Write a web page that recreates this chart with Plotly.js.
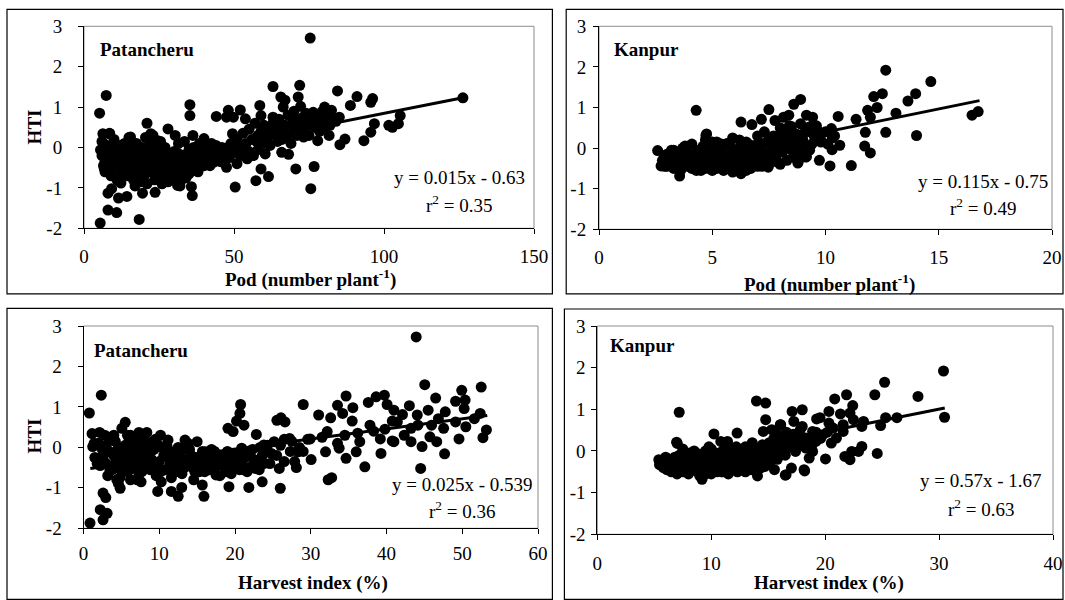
<!DOCTYPE html>
<html><head><meta charset="utf-8">
<script src="https://cdn.plot.ly/plotly-3.0.1.min.js"></script>
<style>html,body{margin:0;padding:0;background:#fff}#chart{width:1065px;height:600px}</style>
</head><body><div id="chart"></div>
<script>
// ---------- data ----------
const patPod = [[5.4,-1.87],[5.2,0.85],[7.4,1.29],[5.5,-0.06],[8.0,-1.13],[9.2,-1.02],[8.0,-1.55],[10.9,-1.61],[11.5,-1.25],[12.3,-0.88],[14.3,-1.21],[18.4,-1.78],[19.5,-1.13],[23.7,-1.11],[21,0.6],[15.5,0.26],[6.3,0.34],[8.6,0.34],[22.3,0.34],[24.6,0.17],[28,0.46],[30.4,0.3],[35.3,1.06],[35.3,0.79],[36.3,0.3],[35.8,-0.97],[36.1,-1.19],[31.2,-0.94],[40,0.22],[44.1,0.77],[43.3,-0.36],[48.1,0.92],[47.5,0.75],[49.8,0.75],[52.1,0.93],[50.4,-0.98],[49.5,0.34],[53.8,0.71],[47.5,-0.49],[51,-0.4],[54.4,-0.28],[57.3,-0.82],[59,-0.53],[61.5,-0.72],[58.6,1.04],[59,0.79],[60.4,-0.16],[63,1.51],[63,0.75],[65.6,1.25],[67,1.17],[66.4,1.0],[65.9,-0.12],[68.2,-0.17],[70.6,-0.53],[71.9,1.54],[71.4,1.25],[72.2,1.02],[69.9,0.75],[71.6,0.5],[73.2,0.26],[75.4,2.71],[75.6,-1.02],[76.7,-0.47],[76.4,0.87],[77.9,0.17],[80.2,1.0],[82.5,0.92],[81.7,0.3],[84.5,1.4],[85.1,0.75],[85.3,0.07],[87,0.21],[88.8,1.04],[91,1.26],[93.3,0.17],[95.6,0.38],[95.6,1.12],[96.2,1.21],[96.8,0.59],[101.6,0.55],[102.8,0.5],[104.8,0.59],[105.4,0.79],[126.3,1.23],
[6,-0.2],[6.5,0.1],[7,-0.35],[7.5,0.05],[8,-0.25],[8.5,0.35],[9,-0.45],[9.5,0.0],[10,-0.3],[10,0.2],[7,-0.6],[9,-0.7],
[10.5,-0.5],[11,-0.1],[11.5,-0.3],[12,0.05],[12.5,-0.6],[13,-0.2],[13.5,-0.45],[14,0.0],[14.5,-0.7],[15,-0.35],[11,-0.8],[13,-0.1],[15,0.25],[12,-0.4],
[15.5,-0.55],[16,-0.15],[16.5,-0.8],[17,-0.4],[17.5,0.1],[18,-0.6],[18.5,-0.25],[19,-0.85],[19.5,0.0],[20,-0.45],[16,0.1],[18,-0.05],[20,-0.7],[17,-0.95],
[20.5,0.25],[21,-0.3],[21.5,-0.6],[22,0.1],[22.5,-0.15],[23,-0.5],[23.5,-0.8],[24,-0.2],[24.5,0.05],[25,-0.6],[21,-0.9],[23,0.3],[25,-0.3],
[25.5,0.15],[26,-0.45],[26.5,-0.7],[27,0.0],[27.5,-0.3],[28,-0.85],[28.5,-0.15],[29,-0.55],[29.5,-0.8],[30,-0.1],[26,-0.9],[28,-0.6],[30,-0.4],
[30.5,-0.7],[31,-0.3],[31.5,0.1],[32,-0.5],[32.5,-0.8],[33,-0.2],[33.5,0.15],[34,-0.6],[34.5,-0.4],[35,-0.05],[32,-0.95],[34,-0.75],
[35.5,-0.3],[36,-0.55],[36.5,0.0],[37,-0.4],[37.5,-0.2],[38,-0.6],[38.5,0.1],[39,-0.35],[39.5,-0.15],[40,-0.45],
[40.5,0.05],[41,-0.25],[42,-0.1],[42.5,0.1],[43,-0.3],[44,0.05],[45,-0.15],[46,0.0],[47,-0.05],[48,0.0],
[49,0.1],[50,-0.1],[51,0.2],[52,-0.2],[52.5,0.0],[53,0.35],[54,0.1],[55,-0.1],[55,0.45],[56,0.2],[56.5,-0.2],[57,0.6],[58,0.3],[58,-0.05],[59,0.4],[60,0.1],[60,0.55],[61,0.2],[62,0.35],[62,0.05],[63,0.6],[64,0.3],[65,0.7],[65,0.45],[66,0.2],[67,0.55],[68,0.3],[68,0.8],[69,0.1],[70,0.45],[70,0.9],[72,0.7],[73,0.4],[74,0.6],[74,0.85],[75,0.3],[76,0.65],[77,0.5],[78,0.8],[79,0.6],[80,0.45],[80,0.75],[81,0.9],[82,0.55],[83,0.7],[84,0.65],
[6.5,-0.45],[7.5,-0.15],[8.5,-0.55],[9.5,-0.25],[10.5,0.05],[11.5,-0.55],[12.5,-0.15],[13.5,0.1],[14.5,-0.3],[15.5,-0.05],[16.5,-0.45],[17.5,-0.2],[18.5,-0.5],[19.5,-0.3],[20.5,-0.05],[21.5,-0.35],[22.5,-0.6],[23.5,-0.3],[24.5,-0.5],[25.5,-0.15],[26.5,-0.35],[27.5,-0.55],[28.5,-0.4],[29.5,-0.2],[30.5,-0.5],[31.5,-0.15],[32.5,-0.35],[33.5,-0.6],[34.5,-0.15],[35.5,-0.5],[36.5,-0.3],[37.5,-0.55],[38.5,-0.25],[39.5,-0.45],[40.5,-0.2],[41.5,-0.4],[43.5,-0.15],[44.5,-0.3],
[6,0.15],[8,0.0],[10,-0.1],[12,-0.25],[14,-0.5],[16,-0.3],[18,-0.3],[20,-0.2],[22,-0.4],[24,-0.65],[26,-0.15],[28,-0.25],[30,-0.6],[32,-0.25],[34,-0.3],[36,-0.2],[38,-0.4],[40,-0.1],[42,-0.45],
[7,-0.05],[9,-0.2],[11,-0.45],[13,-0.65],[15,-0.15],[17,-0.65],[19,-0.6],[21,-0.05],[23,-0.15],[25,-0.45],[27,-0.65],[29,-0.3],[31,-0.55],[33,-0.45],[35,-0.65],[37,-0.05],[39,-0.05],[41,0.0],
[45.5,-0.35],[46.5,-0.2],[48.5,-0.25],[50.5,0.05],[53.5,-0.05],[57.5,0.15],[61.5,0.45],[64.5,0.15],[66.5,0.4],[69.5,0.6],[71,0.3],[73,0.75],[75.5,0.55],[78.5,0.4],[79.5,0.9],[82,0.7]];

const kanPod = [[2.59,-0.06],[2.74,-0.44],[3.56,-0.69],[4.29,0.93],[4.72,0.31],[6.27,0.64],[6.75,0.58],[7.17,0.71],[7.5,0.95],[7.77,0.68],[8.15,0.76],[8.38,0.81],[8.6,1.08],[8.9,1.2],[9.16,0.81],[9.43,0.76],[9.13,-0.22],[8.78,-0.37],[9.73,-0.3],[10.2,-0.44],[10.29,-0.04],[10.56,0.78],[10.63,0.07],[10.26,0.48],[11.14,-0.43],[11.35,0.71],[11.76,0.39],[11.73,0.05],[11.98,-0.12],[11.86,0.93],[11.98,0.76],[12.13,1.27],[12.28,1.0],[12.51,1.34],[12.66,1.92],[12.66,0.39],[13.11,0.86],[13.64,1.16],[13.98,1.34],[14.02,0.31],[14.65,1.64],[16.47,0.81],[16.74,0.9],[8.38,0.44],[8.0,0.35],[9.28,0.52],[9.65,0.35],[9.8,0.19],[7.47,-0.47],[7.32,-0.39],[6.27,-0.63],[5.9,-0.59],
[2.8,-0.3],[3.0,-0.15],[3.0,-0.45],[3.2,-0.25],[3.3,-0.05],[3.4,-0.4],[3.5,-0.2],[3.6,-0.55],[3.7,0.0],[3.8,-0.3],[3.9,-0.45],[4.0,-0.15],[4.1,0.1],[4.2,-0.35],[4.3,-0.55],[4.4,-0.05],
[4.5,-0.25],[4.6,-0.45],[4.7,0.2],[4.8,-0.1],[4.9,-0.35],[5.0,-0.55],[5.0,0.0],[5.1,-0.2],[5.2,0.15],[5.3,-0.4],[5.4,-0.05],[5.5,-0.3],[4.7,-0.5],[5.2,-0.5],
[5.6,0.1],[5.7,-0.45],[5.8,-0.15],[5.9,0.25],[6.0,-0.3],[6.1,-0.55],[6.2,0.0],[6.3,-0.2],[6.4,-0.45],[6.5,0.15],[6.6,-0.1],[6.7,-0.35],[6.8,0.05],[6.9,-0.2],[7.0,0.3],[7.0,-0.45],
[7.1,0.1],[7.2,-0.15],[7.3,0.4],[7.4,-0.3],[7.5,0.2],[7.6,-0.05],[7.7,0.3],[7.8,-0.25],[7.9,0.1],[8.0,0.5],[8.1,-0.1],[8.2,0.25],[8.3,0.0],[8.4,0.55],[8.5,0.15],[8.6,-0.2],
[8.7,0.35],[8.8,0.05],[8.9,0.6],[9.0,0.2],[9.2,0.45],[9.3,-0.05],[9.5,0.3],[9.6,0.55],[9.8,0.15],[10.0,0.4],[10.1,0.1],[10.3,0.25],
[3.0,-0.35],[3.6,-0.1],[4.4,-0.3],[5.0,-0.25],[5.6,-0.35],[6.2,-0.35],[6.8,-0.3],[7.5,-0.3],[5.7,0.12],[4.75,0.35],[8.5,0.53],[8.1,0.45],[8.79,-0.33],[9.16,-0.21],
[2.9,-0.2],[3.1,-0.35],[3.3,-0.5],[3.5,-0.1],[3.7,-0.4],[3.9,-0.2],[4.1,-0.5],[4.3,-0.1],[4.5,-0.4],[4.7,-0.15],[4.9,-0.5],[5.1,-0.35],[5.3,-0.15],[5.5,-0.5],[5.7,-0.2],[5.9,-0.4],[6.1,-0.1],[6.3,-0.45],[6.5,-0.25],[6.7,-0.5],[6.9,-0.05],[7.1,-0.3],[7.3,-0.1],[7.5,-0.4],[7.7,-0.15],[7.9,-0.35],[8.1,0.1],[8.3,-0.3],[8.5,-0.05],[8.7,-0.25],[8.9,-0.1],
[3.2,-0.05],[3.8,0.05],[4.2,-0.2],[4.6,0.05],[5.0,0.15],[5.4,0.1],[5.8,0.05],[6.2,0.2],[6.6,0.1],[7.0,0.1],[7.4,0.15],[7.8,0.0],[8.2,0.35],[8.6,0.25],[9.0,0.35],[9.4,0.1],
[2.9,-0.45],[3.5,-0.45],[4.0,-0.4],[4.5,-0.55],[5.5,-0.55],[6.5,-0.55],[7.2,-0.45],[8.0,-0.4],
[3.3,-0.3],[4.0,-0.25],[4.8,-0.3],[5.2,-0.1],[5.9,-0.25],[6.4,-0.05],[7.0,-0.2],[7.6,0.1],[8.3,0.15],[9.1,0.05],[9.7,0.4],[10.4,0.3]];

const patHI = [[0.86,-1.87],[0.77,0.85],[2.35,1.29],[1.13,0.34],[1.22,0.02],[2.12,0.37],[2.58,-1.13],[2.94,-1.24],[2.21,-1.54],[2.58,-1.79],[3.12,-1.63],[2.58,-0.31],[3.48,-0.56],[4.84,-1.01],[4.6,-0.89],[5.06,0.47],[5.51,0.62],[6.2,0.3],[7.32,0.37],[8.36,0.37],[7.1,-0.8],[9.8,-1.09],[10.26,-0.85],[10.17,0.3],[11.16,0.18],[11.6,-1.09],[12.5,-1.21],[12.97,-0.99],[13.4,0.18],[14.55,-0.8],[15.0,0.14],[15.68,-0.93],[15.9,-1.21],[16.13,-0.11],[17.49,-0.68],[18.17,-0.27],[19.07,0.47],[19.2,-0.97],[19.75,0.39],[20.2,0.65],[20.65,0.84],[20.74,1.06],[21.19,0.55],[20.88,-0.02],[21.83,-0.99],[22.68,-0.52],[22.82,0.32],[23.59,-0.85],[23.81,0.06],[25.17,0.14],[25.53,0.67],[26.07,0.73],[26.6,0.63],[25.98,-1.01],[25.85,-0.52],[26.5,-0.35],[27.2,0.22],[27.88,-0.35],[28.1,-0.5],[28.33,-0.11],[29.01,1.06],[29.92,0.21],[30.05,-0.3],[31.04,0.8],[32.17,0.39],[32.3,-0.8],[32.76,-0.75],[32.63,0.73],[33.53,1.04],[34.21,0.84],[34.66,1.27],[35.56,0.98],[35.47,0.65],[34.66,-0.27],[36.0,-0.11],[37.14,-0.48],[37.6,1.11],[37.82,0.55],[38.63,1.25],[39.72,1.29],[39.27,-0.15],[39.18,0.21],[40.08,1.06],[40.98,0.92],[40.76,0.16],[40.76,0.65],[42.11,0.81],[43.02,1.03],[43.92,2.73],[44.51,-0.52],[44.69,0.02],[44.06,0.8],[45.05,1.55],[45.5,0.92],[45.73,0.26],[46.49,1.22],[46.63,0.14],[47.67,-0.16],[47.54,0.47],[47.76,0.88],[49.12,1.14],[49.57,0.21],[49.93,1.41],[50.25,0.96],[50.38,1.17],[50.47,0.51],[52.5,1.49],[52.37,0.84],[52.73,0.24],[53.19,0.43],[51.6,0.71],[49.12,0.63],[44.15,0.55],[42.34,0.3],[43.24,0.14],[36.47,0.14],[33.53,0.1],[31.95,-0.11],[33.75,-0.02],[40.98,0.14],[43.24,0.47],[41.43,0.63],[45.95,0.55],[46.85,0.71],
[1.5,-0.25],[2,0.1],[2.5,-0.05],[3,-0.4],[3.5,0.2],[4,-0.2],[4.2,0.15],[4.5,-0.5],[5,-0.1],[5.2,-0.35],[5.5,0.05],[5.8,-0.6],[6,-0.2],[6.3,0.1],[6.5,-0.45],[6.8,-0.05],[7,-0.3],[7.3,-0.65],[7.6,0.0],[7.9,-0.4],[8.2,-0.15],[8.5,0.1],[8.8,-0.55],[9,-0.3],[9.3,-0.05],[9.6,-0.7],[10,-0.35],[10.4,0.0],[10.8,-0.55],[11.2,-0.25],[11.6,-0.75],[12,-0.1],[12.3,-0.45],[12.7,-0.2],[13,-0.65],[13.5,-0.35],[14,-0.05],[14.4,-0.5],[14.8,-0.25],[15.3,-0.6],[15.7,-0.1],[16.2,-0.45],[16.7,-0.3],[17.2,-0.55],[17.7,-0.2],[18.3,-0.45],[18.8,-0.6],[19.3,-0.3],[19.8,-0.5],[20.3,-0.15],[20.8,-0.4],[21.3,-0.25],[21.8,-0.5],[22.3,-0.05],[22.8,-0.35],[23.3,0.0],[23.8,-0.4],[24.3,0.05],[24.8,-0.15],[3.2,-0.7],[4.8,-0.75],[6.2,-0.8],[2.8,0.3],[5.8,0.3],[9.5,0.2],[11,0.05],[13.8,0.1],[16,-0.6],[18,-0.7],[20,-0.45],[22,-0.2],[26.5,0.2],[27.5,0.15],[28.5,0.0],[29,-0.1],
[1.8,-0.4],[2.6,-0.2],[3.4,-0.1],[4.3,-0.35],[5.1,-0.6],[5.9,0.0],[6.6,-0.25],[7.4,-0.15],[8.1,-0.45],[8.9,-0.1],[9.7,-0.45],[10.6,-0.2],[11.4,-0.4],[12.2,-0.6],[13.1,-0.05],[13.9,-0.4],[14.7,-0.6],[15.5,-0.35],[16.4,-0.15],[17.5,-0.4],[18.5,-0.2],[19.5,-0.65],[20.5,-0.35],[21.6,-0.6],[22.6,-0.45],[23.6,-0.2],[24.6,-0.4],
[4.6,0.0],[5.4,-0.45],[6.1,-0.55],[6.9,-0.5],[8.4,-0.3],[9.9,0.05],[11.8,-0.3],[12.9,-0.3],[16.9,-0.05],[19.0,-0.1],[21.1,-0.55],[25.5,-0.2],[26.0,0.05],[27.3,-0.1],[29.6,0.2],[31.5,0.25],[34.5,0.3],[36.2,0.35],[38.3,0.4],[39.8,0.45],
[1.4,0.1],[2.2,-0.45],[3.0,0.05],[3.8,-0.55],[4.0,0.3],[4.9,-0.3],[5.6,-0.2],[6.4,-0.35],[7.1,0.1],[7.7,-0.6],[8.6,-0.2],[9.2,0.15],[10.2,-0.6],[10.9,-0.1],[11.9,-0.55],[12.5,0.0],[13.3,-0.5],[14.2,-0.2],[15.0,-0.45],[15.9,-0.25],[16.6,-0.55],[17.3,-0.1],[18.0,-0.35],[18.9,-0.4],[19.7,-0.2],[20.6,-0.55],[21.5,-0.1],[22.5,-0.3],[23.2,-0.55],[24.0,-0.1],[6.7,0.2],[8.0,0.25],[4.4,-0.8],[7.6,-0.85]];

const kanHI = [[7.19,0.93],[6.96,0.21],[5.4,-0.21],[5.46,-0.33],[9.19,-0.68],[10.24,0.41],[12.27,0.43],[10.84,0.23],[11.43,0.23],[13.97,1.2],[14.78,1.15],[14.78,0.75],[14.57,0.47],[15.31,0.51],[16.06,0.63],[14.06,-0.6],[14.72,-0.37],[15.55,-0.45],[16.57,-0.57],[17.04,-0.41],[18.15,-0.45],[17.1,0.95],[17.99,0.99],[17.25,0.71],[17.99,0.59],[18.6,-0.17],[18.9,0.47],[19.25,0.77],[19.55,0.8],[20.03,-0.19],[20.33,0.95],[20.33,0.67],[20.54,0.19],[20.84,1.25],[21.88,1.35],[21.34,0.89],[21.58,0.47],[21.73,-0.13],[22.18,-0.21],[22.33,-0.01],[22.42,1.09],[22.18,0.91],[22.48,0.75],[22.93,-0.01],[23.22,0.11],[23.22,0.59],[23.37,0.71],[24.36,1.35],[24.57,-0.06],[24.87,0.61],[25.22,1.65],[25.31,0.8],[26.3,0.8],[28.15,1.31],[30.39,1.92],[30.48,0.81],[21.58,0.63],[20.99,0.31],[19.79,0.39],[19.19,0.23],[18.3,0.31],[17.4,0.23],[16.81,0.39],[16.21,0.19],[15.46,0.07],[16.21,-0.09],[17.4,-0.01],[18.3,0.07],[18.9,-0.01],[7.02,0.18],[16.5,-0.58],[18.2,-0.48],[16.1,0.63],
[5.5,-0.25],[6,-0.35],[6.3,-0.2],[6.6,-0.45],[6.9,-0.3],[7.2,-0.1],[7.4,-0.4],[7.7,-0.2],[7.9,-0.5],[8.1,-0.05],[8.3,-0.3],[8.5,-0.45],[8.7,-0.15],[8.9,-0.35],[9.1,-0.5],[9.3,-0.2],[9.5,0.0],[9.7,-0.4],[9.9,-0.25],[10.1,-0.1],[10.3,-0.45],[10.5,-0.3],[10.7,-0.15],[10.9,-0.5],[11.1,-0.25],[11.3,0.05],[11.5,-0.4],[11.7,-0.2],[11.9,-0.35],[12.1,0.0],[12.3,-0.5],[12.5,-0.25],[12.7,-0.1],[12.9,-0.4],[13.1,-0.2],[13.3,0.05],[13.5,-0.35],[13.7,-0.15],[13.9,-0.45],[14.1,0.0],[14.3,-0.25],[14.5,0.15],[14.7,-0.1],[14.9,-0.3],[15.1,0.2],[15.3,-0.05],[15.5,0.3],[15.8,-0.2],[16,0.1],[16.3,0.35],[16.5,-0.1],[16.8,0.2],[17.2,0.4],[17.5,0.1],[7,-0.55],[8,-0.55],[9,-0.6],[10,-0.55],[11,-0.5],[12,-0.45],[13,-0.5],[8.5,0.0],[10,0.05],[11.5,0.1],[13,0.1],[6.5,-0.5],[6,-0.15],[5.8,-0.4],[7.5,0.05],
[5.7,-0.3],[6.1,-0.45],[6.4,-0.3],[6.8,-0.15],[7.1,-0.45],[7.3,-0.25],[7.6,-0.35],[7.8,-0.05],[8.2,-0.4],[8.4,-0.2],[8.6,-0.3],[8.8,-0.5],[9.0,-0.1],[9.2,-0.35],[9.4,-0.45],[9.6,-0.2],[9.8,-0.35],[10.0,-0.45],[10.2,-0.2],[10.4,-0.05],[10.6,-0.4],[10.8,-0.25],[11.0,-0.35],[11.2,-0.1],[11.4,-0.25],[11.6,-0.45],[11.8,-0.05],[12.0,-0.3],[12.2,-0.15],[12.4,-0.35],[12.6,-0.45],[12.8,-0.2],[13.0,-0.3],[13.2,-0.4],[13.4,-0.1],[13.6,-0.25],[13.8,-0.05],[14.0,-0.35],[14.2,-0.15],[14.4,-0.4],[14.6,0.05],[14.8,-0.2],[15.0,0.0],[15.2,-0.25],[15.4,0.15],[15.6,-0.1],[15.9,0.05],[16.2,0.25],[16.6,0.05],[16.9,0.3],[17.3,0.2],[17.7,0.35],[18.1,0.15],[18.5,0.3],[18.8,0.1],[19.2,0.45],[19.6,0.3],[20.2,0.45],[20.7,0.55],
[6.0,-0.25],[6.7,-0.35],[7.5,-0.5],[8.0,-0.25],[9.5,-0.55],[10.5,-0.5],[11.5,-0.55],[12.5,-0.05],[13.5,-0.45],[14.5,-0.3],[8.7,-0.05],[9.8,0.1],[11.0,0.0],[12.2,0.1],[13.6,0.2],[15.8,0.4],[16.6,0.45],[17.8,0.5]];

// trend-line end points
const patPodLineX = [5, 126.3], patPodLineY = [-0.55, 1.23];
const kanPodLineX = [2.6, 16.8], kanPodLineY = [-0.45, 1.17];
const patHILineX = [0.9, 53.3], patHILineY = [-0.52, 0.79];
const kanHILineX = [5.4, 30.5], kanHILineY = [-0.34, 1.03];

const locations = ['Patancheru', 'Kanpur', 'Patancheru', 'Kanpur'];
const equations = ['y = 0.015x - 0.63', 'y = 0.115x - 0.75', 'y = 0.025x - 0.539', 'y = 0.57x - 1.67'];
const rsq = ['r<sup>2</sup> = 0.35', 'r<sup>2</sup> = 0.49', 'r<sup>2</sup> = 0.36', 'r<sup>2</sup> = 0.63'];
const xTitles = ['Pod (number plant<sup>-1</sup>)', 'Pod (number plant<sup>-1</sup>)', 'Harvest index (%)', 'Harvest index (%)'];
const yTitle = 'HTI';
const yTickVals = [-2, -1, 0, 1, 2, 3];
const yTickText = ['-2', '-1', '0', '1', '2', '3'];
const xTickVals = [[0, 50, 100, 150], [0, 5, 10, 15, 20], [0, 10, 20, 30, 40, 50, 60], [0, 10, 20, 30, 40]];
const xRanges = [[0, 150], [0, 20], [0, 60], [0, 40]];

// ---------- layout ----------
const W = 1065, H = 600;
const px = v => v / W, py = v => 1 - v / H;
const FONT = 'Liberation Serif, Times New Roman, serif';

// plot areas in pixels [x0, x1, ytop, ybottom]
const areas = [[84, 534, 26.3, 228.3], [599, 1052, 26.3, 229.3], [83.5, 538, 326, 528.3], [597.3, 1053, 326, 534.3]];
// panel boxes [x0, x1, y0, y1]
const boxes = [[7, 552.4, 9.3, 293.8], [566.2, 1063, 9.3, 293.8], [7, 552.4, 308.3, 599.3], [564.4, 1063, 309, 599.3]];
const yLabelStandoff = [12, 3, 12, 2];
const xLabelStandoff = [6, 6, 3, 7];

const datasets = [patPod, kanPod, patHI, kanHI];
const lines = [[patPodLineX, patPodLineY], [kanPodLineX, kanPodLineY], [patHILineX, patHILineY], [kanHILineX, kanHILineY]];

const traces = [];
const layout = {
  width: W, height: H, margin: {l: 0, r: 0, t: 0, b: 0},
  paper_bgcolor: '#fff', plot_bgcolor: '#fff', showlegend: false,
  font: {family: FONT, size: 19, color: '#000'},
  shapes: [], annotations: []
};

datasets.forEach((d, i) => {
  const n = i === 0 ? '' : String(i + 1);
  const xa = 'x' + n, ya = 'y' + n;
  traces.push({
    type: 'scatter', mode: 'markers', xaxis: xa, yaxis: ya,
    x: d.map(p => p[0]), y: d.map(p => p[1]),
    marker: {size: 11, color: '#000', line: {width: 0}}, cliponaxis: false, hoverinfo: 'x+y'
  });
  traces.push({
    type: 'scatter', mode: 'lines', xaxis: xa, yaxis: ya,
    x: lines[i][0], y: lines[i][1], line: {color: '#000', width: 3}, hoverinfo: 'skip'
  });
  const a = areas[i];
  layout['xaxis' + n] = {
    domain: [px(a[0]), px(a[1])], range: xRanges[i], anchor: ya,
    tickvals: xTickVals[i], ticktext: xTickVals[i].map(String),
    showline: true, linecolor: '#000', linewidth: 1, ticks: 'outside', ticklen: 5, tickwidth: 1, tickcolor: '#000',
    showgrid: false, zeroline: false, tickfont: {family: FONT, size: 19, color: '#000'},
    ticklabelstandoff: xLabelStandoff[i], fixedrange: true
  };
  layout['yaxis' + n] = {
    domain: [py(a[3]), py(a[2])], range: [-2, 3], anchor: xa,
    tickvals: yTickVals, ticktext: yTickText,
    showline: true, linecolor: '#000', linewidth: 1, ticks: 'outside', ticklen: 5, tickwidth: 1, tickcolor: '#000',
    showgrid: false, zeroline: false, tickfont: {family: FONT, size: 19, color: '#000'},
    ticklabelstandoff: yLabelStandoff[i], fixedrange: true
  };
  layout.shapes.push({type: 'rect', xref: xa + ' domain', yref: ya + ' domain', x0: 0, x1: 1, y0: 0, y1: 1,
    line: {color: '#8c8c8c', width: 1}, layer: 'below'});
  const b = boxes[i];
  layout.shapes.push({type: 'rect', xref: 'paper', yref: 'paper', x0: px(b[0]), x1: px(b[1]), y0: py(b[3]), y1: py(b[2]),
    line: {color: '#000', width: 1.2}});
});

// text positions in pixels
const locPos = [[98, 49.3], [612, 49.3], [92, 350.7], [608, 345]];
const eqPos = [[459, 178], [983, 181.7], [462, 484.3], [981, 480]];
const rPos = [[459, 204.3], [983, 206.7], [462, 510], [981, 508.3]];
const xtPos = [[310, 278.3], [829, 283], [312.5, 583.3], [828.7, 583]];
const ytPos = [[34.4, 127], null, [34.4, 436]];

for (let i = 0; i < 4; i++) {
  layout.annotations.push({xref: 'paper', yref: 'paper', x: px(locPos[i][0]), y: py(locPos[i][1]), xanchor: 'left', yanchor: 'middle',
    text: '<b>' + locations[i] + '</b>', showarrow: false, font: {family: FONT, size: 19, color: '#000'}});
  layout.annotations.push({xref: 'paper', yref: 'paper', x: px(eqPos[i][0]), y: py(eqPos[i][1]), xanchor: 'center', yanchor: 'middle',
    text: equations[i], showarrow: false, font: {family: FONT, size: 19, color: '#000'}});
  layout.annotations.push({xref: 'paper', yref: 'paper', x: px(rPos[i][0]), y: py(rPos[i][1]), xanchor: 'center', yanchor: 'middle',
    text: rsq[i], showarrow: false, font: {family: FONT, size: 19, color: '#000'}});
  layout.annotations.push({xref: 'paper', yref: 'paper', x: px(xtPos[i][0]), y: py(xtPos[i][1]), xanchor: 'center', yanchor: 'middle',
    text: '<b>' + xTitles[i] + '</b>', showarrow: false, font: {family: FONT, size: 19, color: '#000'}});
  if (ytPos[i]) {
    layout.annotations.push({xref: 'paper', yref: 'paper', x: px(ytPos[i][0]), y: py(ytPos[i][1]), xanchor: 'center', yanchor: 'middle',
      text: '<b>' + yTitle + '</b>', textangle: -90, showarrow: false, font: {family: FONT, size: 19, color: '#000'}});
  }
}

Plotly.newPlot('chart', traces, layout, {displayModeBar: false});
</script></body></html>
